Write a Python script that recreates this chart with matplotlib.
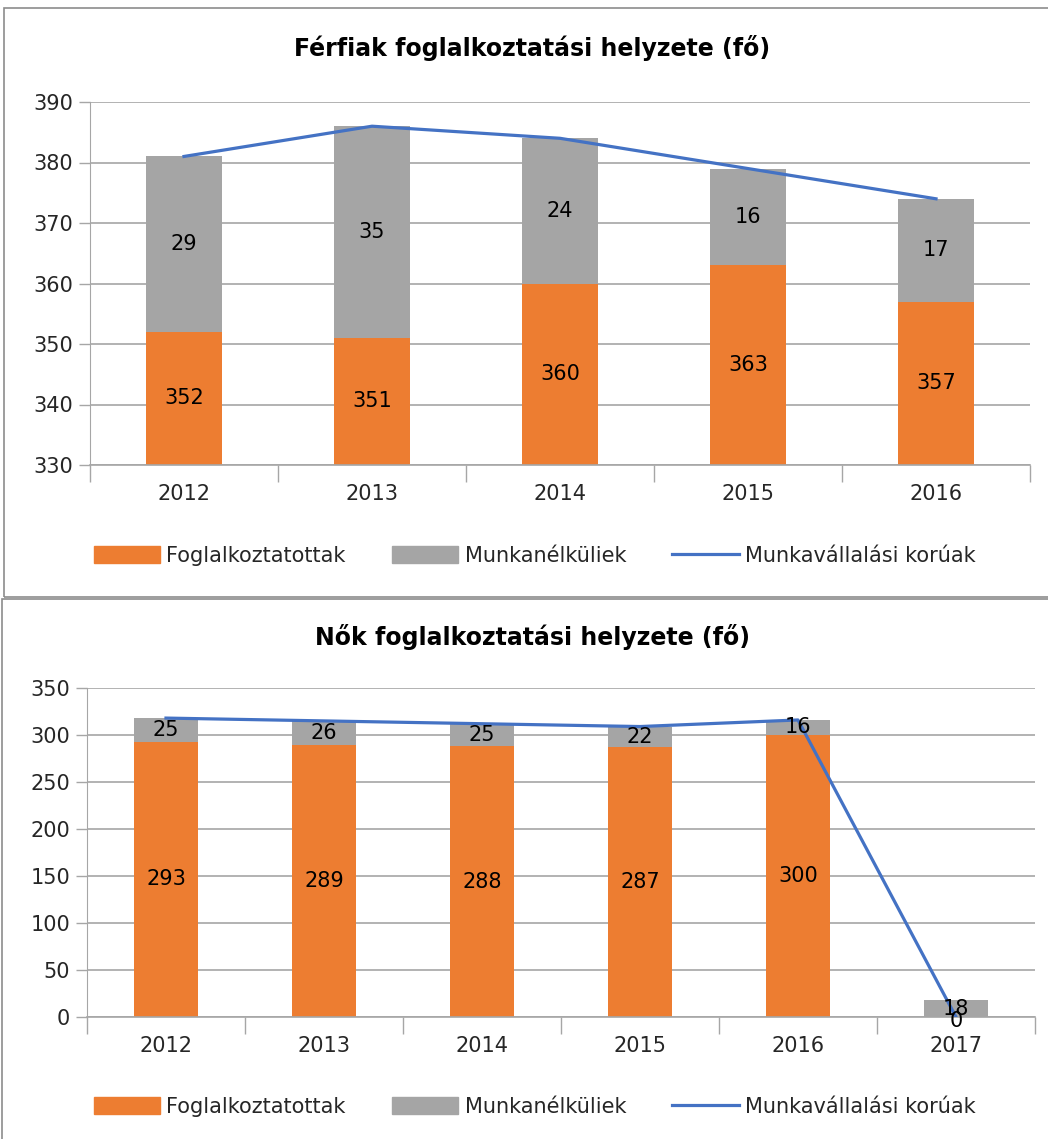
import matplotlib
matplotlib.use("Agg")
from matplotlib import pyplot as plt
from matplotlib.patches import Rectangle, Patch
from matplotlib.lines import Line2D
import numpy as np

plt.rcParams['font.family'] = ['DejaVu Sans']

# Férfiak
years_m = ['2012', '2013', '2014', '2015', '2016']
employed_m = [352, 351, 360, 363, 357]
unemployed_m = [29, 35, 24, 16, 17]
working_age_m = [381, 386, 384, 379, 374]

# Nők
years_f = ['2012', '2013', '2014', '2015', '2016', '2017']
employed_f = [293, 289, 288, 287, 300, 0]
unemployed_f = [25, 26, 25, 22, 16, 18]
working_age_f = [318, 315, 312, 309, 316, 0]

series_names = ['Foglalkoztatottak', 'Munkanélküliek', 'Munkavállalási korúak']

ORANGE = '#ED7D31'
GRAY = '#A5A5A5'
BLUE = '#4472C4'
GRID = '#A6A6A6'
TXT = '#262626'

W, H = 1048, 1139
fig = plt.figure(figsize=(W / 100, H / 100), dpi=100)


def px(x0, y0, x1, y1):
    # pixel box (top-left origin) -> figure fraction rect
    return [x0 / W, 1 - y1 / H, (x1 - x0) / W, (y1 - y0) / H]


# panel borders
fig.patches.append(Rectangle((4 / W, 1 - 597 / H), 1.2, 589 / H, transform=fig.transFigure,
                             fill=False, edgecolor='#8c8c8c', linewidth=1.2))
fig.patches.append(Rectangle((2 / W, -0.1), 1.2, 0.1 + 1 - 599 / H, transform=fig.transFigure,
                             fill=False, edgecolor='#8c8c8c', linewidth=1.2))


def draw(ax, years, employed, unemployed, working_age, ylim, step, title, title_y, legend_y):
    x = np.arange(len(years))
    ax.bar(x, employed, width=0.4, color=ORANGE, zorder=2)
    ax.bar(x, unemployed, width=0.4, bottom=employed, color=GRAY, zorder=2)
    ax.plot(x, working_age, color=BLUE, linewidth=2.3, zorder=3)

    lo = ylim[0]
    for i in range(len(years)):
        e, u = employed[i], unemployed[i]
        if e > lo:
            ax.text(x[i], (e + lo) / 2, str(e), ha='center', va='center',
                    fontsize=15, color='black', zorder=4)
        else:
            # zero-height segment, label sits just under the grey one
            ax.annotate(str(e), (x[i], lo), xytext=(0, -3), textcoords='offset points',
                        ha='center', va='center', fontsize=15, color='black', zorder=4)
        ax.text(x[i], e + u / 2, str(u), ha='center', va='center', fontsize=15, color='black', zorder=4)

    ax.set_xlim(-0.5, len(years) - 0.5)
    ax.set_ylim(*ylim)
    ax.set_yticks(np.arange(ylim[0], ylim[1] + 1, step))
    ax.set_xticks(x)
    ax.set_xticklabels(years)
    ax.set_xticks(np.arange(-0.5, len(years), 1), minor=True)
    ax.tick_params(axis='x', which='major', length=0, pad=14, labelsize=15, labelcolor=TXT)
    ax.tick_params(axis='x', which='minor', length=12, color=GRID, width=1)
    ax.tick_params(axis='y', length=8, color=GRID, width=1, labelsize=15, labelcolor=TXT, pad=4)
    ax.grid(axis='y', color=GRID, linewidth=1.2, zorder=0)
    for s in ['top', 'right']:
        ax.spines[s].set_visible(False)
    ax.spines['left'].set_color(GRID)
    ax.spines['bottom'].set_color(GRID)
    ax.spines['bottom'].set_linewidth(1.2)

    fig.text(0.508, 1 - title_y / H, title, ha='center', va='center', fontsize=17,
             fontweight='bold', color='black')
    handles = [Patch(color=ORANGE), Patch(color=GRAY), Line2D([], [], color=BLUE, linewidth=2.3)]
    fig.legend(handles, series_names, loc='center', bbox_to_anchor=(0.51, 1 - legend_y / H),
               ncol=3, frameon=False, fontsize=15, handlelength=3.2, handleheight=0.9,
               columnspacing=2.2, handletextpad=0.3, labelcolor=TXT)


ax1 = fig.add_axes(px(90, 102, 1030, 465))
draw(ax1, years_m, employed_m, unemployed_m, working_age_m, (330, 390), 10,
     'Férfiak foglalkoztatási helyzete (fő)', 48, 556)

ax2 = fig.add_axes(px(87, 688, 1035, 1017))
draw(ax2, years_f, employed_f, unemployed_f, working_age_f, (0, 350), 50,
     'Nők foglalkoztatási helyzete (fő)', 637, 1107)

fig.savefig('out.png', dpi=100)
